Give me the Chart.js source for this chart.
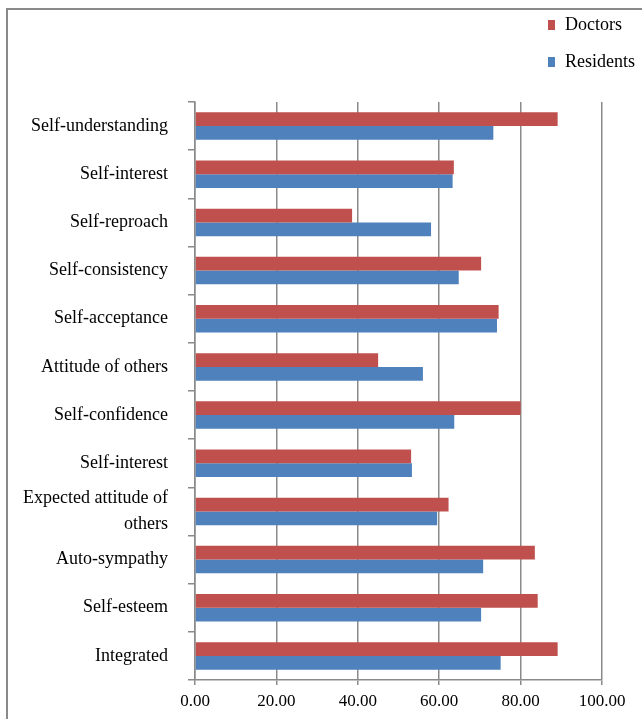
<!DOCTYPE html>
<html>
<head>
<meta charset="utf-8">
<script src="https://cdn.jsdelivr.net/npm/chart.js@4"></script>
<style>
  html, body { margin: 0; padding: 0; background: #fff; }
  #wrap { position: relative; width: 642px; height: 719px; overflow: hidden; }
  #frame {
    position: absolute; left: 6px; top: 8px; right: -4px; bottom: -4px;
    border-left: 2px solid #8a8a8a; border-top: 2px solid #8a8a8a;
  }
  #chart { position: absolute; left: 0; top: 0; }
  .legend { position: absolute; left: 548px; font: 18px "Liberation Serif", "Times New Roman", serif; color: #000; }
  .legend span { display: inline-block; width: 7px; height: 10px; margin-right: 10px; vertical-align: 0px; }
</style>
</head>
<body>
<div id="wrap">
  <div id="frame"></div>
  <canvas id="chart" width="642" height="719"></canvas>
  <div class="legend" style="top:14px"><span style="background:#C0504D"></span>Doctors</div>
  <div class="legend" style="top:51px"><span style="background:#4F81BD"></span>Residents</div>
</div>
<script>
// Categories, top to bottom
const categories = [
  "Self-understanding",
  "Self-interest",
  "Self-reproach",
  "Self-consistency",
  "Self-acceptance",
  "Attitude of others",
  "Self-confidence",
  "Self-interest",
  ["Expected attitude of", "others"],
  "Auto-sympathy",
  "Self-esteem",
  "Integrated",
];

// Series values
const doctors = [89.1, 63.6, 38.6, 70.3, 74.6, 45.0, 80.0, 53.1, 62.3, 83.5, 84.2, 89.1];
const residents = [73.3, 63.3, 58.0, 64.8, 74.2, 56.0, 63.7, 53.3, 59.5, 70.8, 70.3, 75.1];

// Axis ticks
const xTicks = [0, 20, 40, 60, 80, 100];

const serif = "'Liberation Serif', 'Times New Roman', serif";
const axisGrey = "#8a8a8a";

new Chart(document.getElementById("chart"), {
  type: "bar",
  data: {
    labels: categories,
    datasets: [
      { label: "Doctors", data: doctors, backgroundColor: "#C0504D" },
      { label: "Residents", data: residents, backgroundColor: "#4F81BD" },
    ],
  },
  options: {
    indexAxis: "y",
    responsive: false,
    animation: false,
    layout: { padding: { top: 102, right: 40, left: 0, bottom: 0 } },
    datasets: { bar: { categoryPercentage: 0.57, barPercentage: 1.0 } },
    plugins: { legend: { display: false }, tooltip: { enabled: false } },
    scales: {
      x: {
        min: 0,
        max: 100,
        afterBuildTicks: s => { s.ticks = xTicks.map(v => ({ value: v })); },
        afterFit: s => { s.height = 39; },
        grid: { color: axisGrey, lineWidth: 1.5, tickLength: 5 },
        border: { color: axisGrey, width: 1.5 },
        ticks: {
          color: "#000",
          padding: 6,
          font: { family: serif, size: 17 },
          callback: v => Number(v).toFixed(2),
        },
      },
      y: {
        afterFit: s => { s.width = 195; },
        grid: { drawOnChartArea: false, color: axisGrey, lineWidth: 1.5, tickLength: 7 },
        border: { color: axisGrey, width: 1.5 },
        ticks: {
          color: "#000",
          padding: 20,
          autoSkip: false,
          font: { family: serif, size: 18, lineHeight: 1.45 },
        },
      },
    },
  },
});
</script>
</body>
</html>
